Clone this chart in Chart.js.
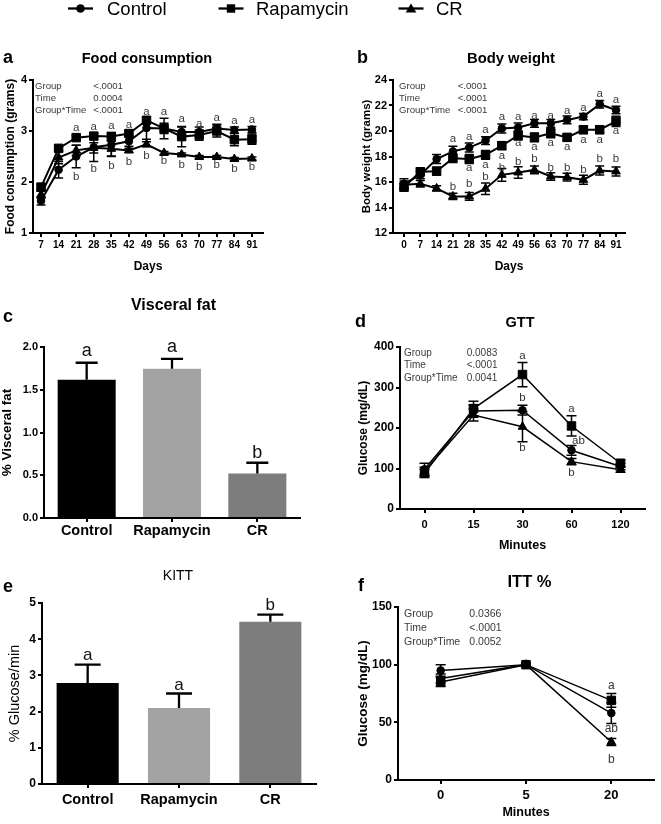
<!DOCTYPE html>
<html><head><meta charset="utf-8">
<script src="https://cdn.jsdelivr.net/npm/chart.js@4.4.1/dist/chart.umd.min.js"></script>
<style>
html,body{margin:0;padding:0;background:#fff}
body{width:661px;height:824px;position:relative;overflow:hidden}
canvas{position:absolute}
#ov{position:absolute;left:0;top:0;pointer-events:none}
</style></head><body>
<script>
// ---------- DATA ----------
const GROUPS = ['Control', 'Rapamycin', 'CR'];

// (a) Food consumption
const foodDays = [7,14,21,28,35,42,49,56,63,70,77,84,91];
const foodControl = [1.63,2.24,2.50,2.68,2.73,2.80,3.06,3.05,2.98,2.98,3.05,3.02,3.03];
const foodControlErr = [0.08,0.16,0.22,0.28,0.22,0.10,0.22,0.10,0.10,0.10,0.08,0.06,0.06];
const foodRapamycin = [1.90,2.66,2.87,2.90,2.89,2.95,3.21,3.05,2.89,2.92,3.00,2.83,2.84];
const foodRapamycinErr = [0.06,0.04,0.04,0.06,0.08,0.06,0.06,0.20,0.20,0.10,0.12,0.12,0.10];
const foodCR = [1.75,2.48,2.62,2.67,2.65,2.62,2.74,2.57,2.54,2.49,2.49,2.45,2.46];
const foodCRErr = [0.07,0.12,0.10,0.10,0.15,0.04,0.05,0.03,0.03,0.03,0.03,0.03,0.03];
const foodSigDays = [21,28,35,42,49,56,63,70,77,84,91];
const foodSigA = [3.07,3.08,3.10,3.13,3.38,3.38,3.23,3.15,3.26,3.19,3.21];
const foodSigB = [2.11,2.26,2.32,2.40,2.51,2.42,2.33,2.30,2.33,2.26,2.30];
const foodStats = [['Group','<.0001'],['Time','0.0004'],['Group*Time','<.0001']];

// (b) Body weight
const bwDays = [0,7,14,21,28,35,42,49,56,63,70,77,84,91];
const bwControl = [15.86,16.56,17.80,18.40,18.70,19.25,20.20,20.27,20.60,20.60,20.87,21.13,22.10,21.65];
const bwControlErr = [0.40,0.30,0.35,0.40,0.35,0.30,0.35,0.35,0.30,0.30,0.30,0.25,0.30,0.30];
const bwRapamycin = [15.60,16.80,16.85,17.87,17.80,18.13,18.85,19.65,19.50,19.83,19.50,20.10,20.10,20.75];
const bwRapamycinErr = [0.30,0.30,0.30,0.35,0.35,0.35,0.30,0.35,0.35,0.35,0.25,0.30,0.30,0.40];
const bwCR = [15.78,15.86,15.50,14.87,14.87,15.47,16.56,16.75,16.95,16.43,16.38,16.17,16.90,16.83];
const bwCRErr = [0.30,0.25,0.20,0.25,0.30,0.45,0.50,0.45,0.30,0.30,0.30,0.35,0.35,0.35];
const bwSigUpperDays = [21,28,35,42,49,56,63,70,77,84,91];
const bwSigUpperA = [19.38,19.56,20.09,21.13,21.13,21.18,21.18,21.60,21.80,22.88,22.43];
const bwSigLowerDays = [28,35,42,49,56,63,70,77,84,91];
const bwSigLowerA = [17.09,17.35,18.05,19.04,18.73,19.04,18.78,19.30,19.30,20.01];
const bwSigBDays = [21,28,35,42,49,56,63,70,77,84,91];
const bwSigB = [15.65,15.86,16.43,17.09,17.61,17.79,17.14,17.14,16.96,17.79,17.79];
const bwStats = [['Group','<.0001'],['Time','<.0001'],['Group*Time','<.0001']];

// (c) Visceral fat
const vfValues = [1.616,1.745,0.52];
const vfErr = [0.20,0.115,0.126];
const vfSig = ['a','a','b'];
const vfSigY = [1.95,2.00,0.755];

// (d) GTT
const gttMinutes = ['0','15','30','60','120'];
const gttControl = [98,242,244,145,105];
const gttControlErr = [15,15,12,12,8];
const gttRapamycin = [88,248,332,205,113];
const gttRapamycinErr = [10,18,30,25,8];
const gttCR = [93,232,203,117,97];
const gttCRErr = [10,15,37,8,6];
const gttSigAt = ['30','30','30','60','60','60'];
const gttSigText = ['a','b','b','a','ab','b'];
const gttSigY = [378,275,152,248,169,90];
const gttStats = [['Group','0.0083'],['Time','<.0001'],['Group*Time','0.0041']];

// (e) KITT
const kittValues = [2.79,2.10,4.48];
const kittErr = [0.51,0.40,0.20];
const kittSig = ['a','a','b'];
const kittSigY = [3.56,2.73,4.94];

// (f) ITT %
const ittMinutes = ['0','5','20'];
const ittControl = [95,100,58];
const ittControlErr = [5,1,9];
const ittRapamycin = [85,100,69];
const ittRapamycinErr = [4,1,6];
const ittCR = [88,100,33];
const ittCRErr = [4,1,3];
const ittSigAt = ['20','20','20'];
const ittSigText = ['a','ab','b'];
const ittSigY = [81.6,44.7,17.3];
const ittStats = [['Group','0.0366'],['Time','<.0001'],['Group*Time','0.0052']];

// ---------- STYLE ----------
const FAMILY = "'Liberation Sans', Arial, Helvetica, sans-serif";
const POINT_STYLES = ['circle','rect','triangle'];
const POINT_RADII = [3.8,6,5];
const BAR_COLORS = ['#000000','#a3a3a3','#7d7d7d'];

Chart.defaults.font.family = FAMILY;
Chart.defaults.color = '#000';
Chart.defaults.animation = false;

const errorBars = {
  id: 'errorBars',
  afterDatasetsDraw(chart, args, opts) {
    const ctx = chart.ctx, ys = chart.scales.y;
    chart.data.datasets.forEach((ds, di) => {
      if (!ds.errors) return;
      const meta = chart.getDatasetMeta(di);
      meta.data.forEach((el, i) => {
        const e = ds.errors[i];
        if (e == null) return;
        const raw = ds.data[i];
        const v = (typeof raw === 'object') ? raw.y : raw;
        const x = el.x;
        const yt = ys.getPixelForValue(v + e);
        const yb = opts.upOnly ? ys.getPixelForValue(v) : ys.getPixelForValue(v - e);
        ctx.save();
        ctx.strokeStyle = '#000';
        ctx.lineWidth = opts.width || 1.5;
        ctx.beginPath();
        ctx.moveTo(x, yt); ctx.lineTo(x, yb);
        ctx.moveTo(x - opts.cap, yt); ctx.lineTo(x + opts.cap, yt);
        if (!opts.upOnly) { ctx.moveTo(x - opts.cap, yb); ctx.lineTo(x + opts.cap, yb); }
        ctx.stroke();
        ctx.restore();
      });
    });
  }
};

const sigLetters = {
  id: 'sigLetters',
  afterDatasetsDraw(chart, args, opts) {
    const ctx = chart.ctx, xs = chart.scales.x, ys = chart.scales.y;
    ctx.save();
    ctx.fillStyle = opts.color || '#333';
    ctx.font = opts.font;
    ctx.textAlign = 'center';
    ctx.textBaseline = 'middle';
    (opts.items || []).forEach(it => {
      ctx.fillText(it.t, xs.getPixelForValue(it.x) + (it.dx || 0), ys.getPixelForValue(it.y));
    });
    ctx.restore();
  }
};

function axis(o) {
  const a = {
    ticks: {font: o.tickFont, color: '#000', padding: o.tickPad, autoSkip: false, maxRotation: 0, minRotation: 0},
    grid: {display: true, drawOnChartArea: false, drawTicks: true, tickLength: 4, tickWidth: 2, color: '#000', lineWidth: 2, offset: false},
    border: {display: true, color: '#000', width: 2},
    afterFit: s => { if (o.w != null) s.width = o.w; if (o.h != null) s.height = o.h; }
  };
  if (o.type) a.type = o.type;
  if (o.min != null) a.min = o.min;
  if (o.max != null) a.max = o.max;
  if (o.offset != null) a.offset = o.offset;
  if (o.step != null) a.ticks.stepSize = o.step;
  if (o.fmt) a.ticks.callback = o.fmt;
  if (o.title) a.title = {display: true, text: o.title, font: o.titleFont, color: '#000', padding: o.titlePad};
  if (o.ticksFrom) a.afterBuildTicks = s => { s.ticks = o.ticksFrom.map(v => ({value: v})); };
  return a;
}

function makeCanvas(x, y, w, h) {
  const c = document.createElement('canvas');
  c.width = w; c.height = h;
  c.style.left = x + 'px'; c.style.top = y + 'px';
  c.style.width = w + 'px'; c.style.height = h + 'px';
  document.body.appendChild(c);
  return c;
}

function baseOptions(pad, extraPlugins) {
  return {
    responsive: false, devicePixelRatio: 1, animation: false,
    layout: {padding: pad},
    plugins: Object.assign({legend: {display: false}, tooltip: {enabled: false}, title: {display: false}}, extraPlugins)
  };
}

function lineDatasets(xs, series, errs, lineWidth) {
  return GROUPS.map((g, k) => ({
    label: g,
    data: xs ? xs.map((d, i) => ({x: d, y: series[k][i]})) : series[k],
    errors: errs[k],
    borderColor: '#000', backgroundColor: '#000',
    pointBackgroundColor: '#000', pointBorderColor: '#000', pointBorderWidth: 1,
    pointStyle: POINT_STYLES[k], pointRadius: POINT_RADII[k],
    borderWidth: lineWidth, tension: 0, clip: false
  }));
}

const B = (s) => ({size: s, weight: 'bold'});

// (a)
(() => {
  const c = makeCanvas(0, 66, 275, 210);
  const items = [];
  foodSigDays.forEach((d, i) => { items.push({x: d, y: foodSigA[i], t: 'a'}); items.push({x: d, y: foodSigB[i], t: 'b'}); });
  const opt = baseOptions({left: 0, top: 14, right: 12, bottom: 0},
    {errorBars: {cap: 4.5, width: 1.5}, sigLetters: {font: '11.5px ' + FAMILY, color: '#3a3a3a', items}});
  opt.scales = {
    x: axis({type: 'linear', min: 3.8, max: 95.4, ticksFrom: foodDays, tickFont: B(10), tickPad: 2, h: 43,
      title: 'Days', titleFont: {size: 12, weight: 'bold', lineHeight: 1.2}, titlePad: {top: 0, bottom: 2.3}}),
    y: axis({min: 1, max: 4, step: 1, tickFont: B(11), tickPad: 2, w: 33,
      title: 'Food consumption (grams)', titleFont: {size: 12, weight: 'bold', lineHeight: 1.2}, titlePad: {top: 3, bottom: 0}})
  };
  new Chart(c, {type: 'line', data: {datasets: lineDatasets(foodDays, [foodControl, foodRapamycin, foodCR], [foodControlErr, foodRapamycinErr, foodCRErr], 2)},
    options: opt, plugins: [errorBars, sigLetters]});
})();

// (b)
(() => {
  const c = makeCanvas(357, 66, 304, 210);
  const items = [];
  bwSigUpperDays.forEach((d, i) => items.push({x: d, y: bwSigUpperA[i], t: 'a'}));
  bwSigLowerDays.forEach((d, i) => items.push({x: d, y: bwSigLowerA[i], t: 'a'}));
  bwSigBDays.forEach((d, i) => items.push({x: d, y: bwSigB[i], t: 'b'}));
  const opt = baseOptions({left: 0, top: 14, right: 36, bottom: 0},
    {errorBars: {cap: 4.5, width: 1.5}, sigLetters: {font: '11.5px ' + FAMILY, color: '#3a3a3a', items}});
  opt.scales = {
    x: axis({type: 'linear', min: -4.72, max: 94.86, ticksFrom: bwDays, tickFont: B(10), tickPad: 2, h: 43,
      title: 'Days', titleFont: {size: 12, weight: 'bold', lineHeight: 1.2}, titlePad: {top: 0, bottom: 2.3}}),
    y: axis({min: 12, max: 24, step: 2, tickFont: B(11), tickPad: 2, w: 36,
      title: 'Body weight (grams)', titleFont: {size: 11.5, weight: 'bold', lineHeight: 1.2}, titlePad: {top: 3, bottom: 0}})
  };
  new Chart(c, {type: 'line', data: {datasets: lineDatasets(bwDays, [bwControl, bwRapamycin, bwCR], [bwControlErr, bwRapamycinErr, bwCRErr], 2)},
    options: opt, plugins: [errorBars, sigLetters]});
})();

function barChart(cv, pad, yw, xh, vals, errs, sig, sigY, yo, capHalf, sigFont, catFont, catPad) {
  const items = GROUPS.map((g, i) => ({x: i, y: sigY[i], t: sig[i]}));
  const opt = baseOptions(pad, {errorBars: {cap: capHalf, width: 2.3, upOnly: true}, sigLetters: {font: sigFont, color: '#111', items}});
  opt.scales = {
    x: axis({type: 'category', offset: true, tickFont: catFont, tickPad: catPad, h: xh}),
    y: axis(Object.assign({w: yw}, yo))
  };
  new Chart(cv, {type: 'bar',
    data: {labels: GROUPS, datasets: [{data: vals, errors: errs, backgroundColor: BAR_COLORS, borderWidth: 0,
      categoryPercentage: 1, barPercentage: 0.68}]},
    options: opt, plugins: [errorBars, sigLetters]});
}

// (c)
barChart(makeCanvas(0, 333, 315, 212), {left: 0, top: 14, right: 15, bottom: 0}, 44, 27,
  vfValues, vfErr, vfSig, vfSigY,
  {min: 0, max: 2, step: 0.5, fmt: v => Number(v).toFixed(1), tickFont: B(11), tickPad: 2,
   title: '% Visceral fat', titleFont: {size: 13.5, weight: 'bold', lineHeight: 1}, titlePad: {top: 0.3, bottom: 0}},
  11, '18px ' + FAMILY, B(14.5), 0);

// (e)
barChart(makeCanvas(0, 590, 330, 225), {left: 0, top: 13, right: 14, bottom: 0}, 42, 31,
  kittValues, kittErr, kittSig, kittSigY,
  {min: 0, max: 5, step: 1, tickFont: B(12), tickPad: 2,
   title: '% Glucose/min', titleFont: {size: 14.5, weight: 'normal', lineHeight: 1}, titlePad: {top: 7.8, bottom: 0}},
  13, '17px ' + FAMILY, B(14.5), 3);

// (d)
(() => {
  const c = makeCanvas(356, 333, 305, 220);
  const items = gttSigAt.map((m, i) => ({x: gttMinutes.indexOf(m), y: gttSigY[i], t: gttSigText[i], dx: gttSigText[i] === 'ab' ? 7 : 0}));
  const opt = baseOptions({left: 0, top: 14, right: 16, bottom: 0},
    {errorBars: {cap: 5, width: 1.5}, sigLetters: {font: '11.5px ' + FAMILY, color: '#333', items}});
  opt.scales = {
    x: axis({type: 'category', offset: true, tickFont: B(11), tickPad: 5, h: 44,
      title: 'Minutes', titleFont: {size: 12.5, weight: 'bold', lineHeight: 1.2}, titlePad: {top: 0, bottom: 0}}),
    y: axis({min: 0, max: 400, step: 100, tickFont: B(12), tickPad: 2, w: 44,
      title: 'Glucose (mg/dL)', titleFont: {size: 12, weight: 'bold', lineHeight: 1.2}, titlePad: {top: 0, bottom: 0}})
  };
  new Chart(c, {type: 'line', data: {labels: gttMinutes, datasets: lineDatasets(null, [gttControl, gttRapamycin, gttCR], [gttControlErr, gttRapamycinErr, gttCRErr], 1.5)},
    options: opt, plugins: [errorBars, sigLetters]});
})();

// (f)
(() => {
  const c = makeCanvas(356, 593, 305, 231);
  const items = ittSigAt.map((m, i) => ({x: ittMinutes.indexOf(m), y: ittSigY[i], t: ittSigText[i]}));
  const opt = baseOptions({left: 0, top: 14, right: 3, bottom: 0},
    {errorBars: {cap: 5, width: 1.5}, sigLetters: {font: '12px ' + FAMILY, color: '#333', items}});
  opt.scales = {
    x: axis({type: 'category', offset: true, tickFont: B(13), tickPad: 4, h: 44,
      title: 'Minutes', titleFont: {size: 12.5, weight: 'bold', lineHeight: 1.2}, titlePad: {top: 0, bottom: 3.5}}),
    y: axis({min: 0, max: 150, step: 50, tickFont: B(12), tickPad: 2, w: 42,
      title: 'Glucose (mg/dL)', titleFont: {size: 13.5, weight: 'bold', lineHeight: 1}, titlePad: {top: 0.3, bottom: 0}})
  };
  new Chart(c, {type: 'line', data: {labels: ittMinutes, datasets: lineDatasets(null, [ittControl, ittRapamycin, ittCR], [ittControlErr, ittRapamycinErr, ittCRErr], 1.5)},
    options: opt, plugins: [errorBars, sigLetters]});
})();

// ---------- TEXT OVERLAY ----------
const NS = 'http://www.w3.org/2000/svg';
const svg = document.createElementNS(NS, 'svg');
svg.setAttribute('id', 'ov'); svg.setAttribute('width', 661); svg.setAttribute('height', 824);
svg.setAttribute('font-family', 'Liberation Sans, Arial, sans-serif');
document.body.appendChild(svg);
function el(tag, attrs, text) {
  const e = document.createElementNS(NS, tag);
  for (const k in attrs) e.setAttribute(k, attrs[k]);
  if (text != null) e.textContent = text;
  svg.appendChild(e);
  return e;
}
function txt(x, y, s, size, weight, anchor, fill) {
  return el('text', {x, y, 'font-size': size, 'font-weight': weight || 'normal', 'text-anchor': anchor || 'start', fill: fill || '#000'}, s);
}

// legend
const legendMarkerX = [80.5, 231, 411];
const legendTextX = [107, 256, 436];
GROUPS.forEach((g, k) => {
  const cx = legendMarkerX[k];
  el('line', {x1: cx - 12.5, y1: 8.5, x2: cx + 12.5, y2: 8.5, stroke: '#000', 'stroke-width': 2.3});
  if (k === 0) el('circle', {cx, cy: 8.5, r: 4.3, fill: '#000'});
  if (k === 1) el('rect', {x: cx - 4.2, y: 4.3, width: 8.4, height: 8.4, fill: '#000'});
  if (k === 2) el('polygon', {points: `${cx},3.4 ${cx - 5.3},12.6 ${cx + 5.3},12.6`, fill: '#000'});
  txt(legendTextX[k], 15, g, 18.5);
});

// panel letters
[['a',3,63],['b',357,63],['c',3,321.7],['d',355,327],['e',3,591.7],['f',358,590.7]].forEach(p => txt(p[1], p[2], p[0], 18, 'bold'));

// titles
txt(147, 63, 'Food consumption', 14.5, 'bold', 'middle');
txt(511, 62.5, 'Body weight', 14.8, 'bold', 'middle');
txt(173.5, 310, 'Visceral fat', 16, 'bold', 'middle');
txt(520, 327, 'GTT', 14.5, 'bold', 'middle');
txt(178, 580, 'KITT', 14, 'normal', 'middle');
txt(529.5, 586.7, 'ITT %', 16.5, 'bold', 'middle');

// stats tables
function stats(rows, x1, x2, baselines, size) {
  rows.forEach((r, i) => {
    txt(x1, baselines[i], r[0], size, 'normal', 'start', '#3a3a3a');
    txt(x2, baselines[i], r[1], size, 'normal', 'start', '#3a3a3a');
  });
}
stats(foodStats, 35, 93.3, [88.8, 101, 112.6], 9.6);
stats(bwStats, 399, 457.7, [89, 101.2, 113], 9.6);
stats(gttStats, 404, 466.7, [355.5, 367.8, 381], 10);
stats(ittStats, 404, 469.3, [617, 630.5, 644.5], 10.5);
</script>
</body></html>
